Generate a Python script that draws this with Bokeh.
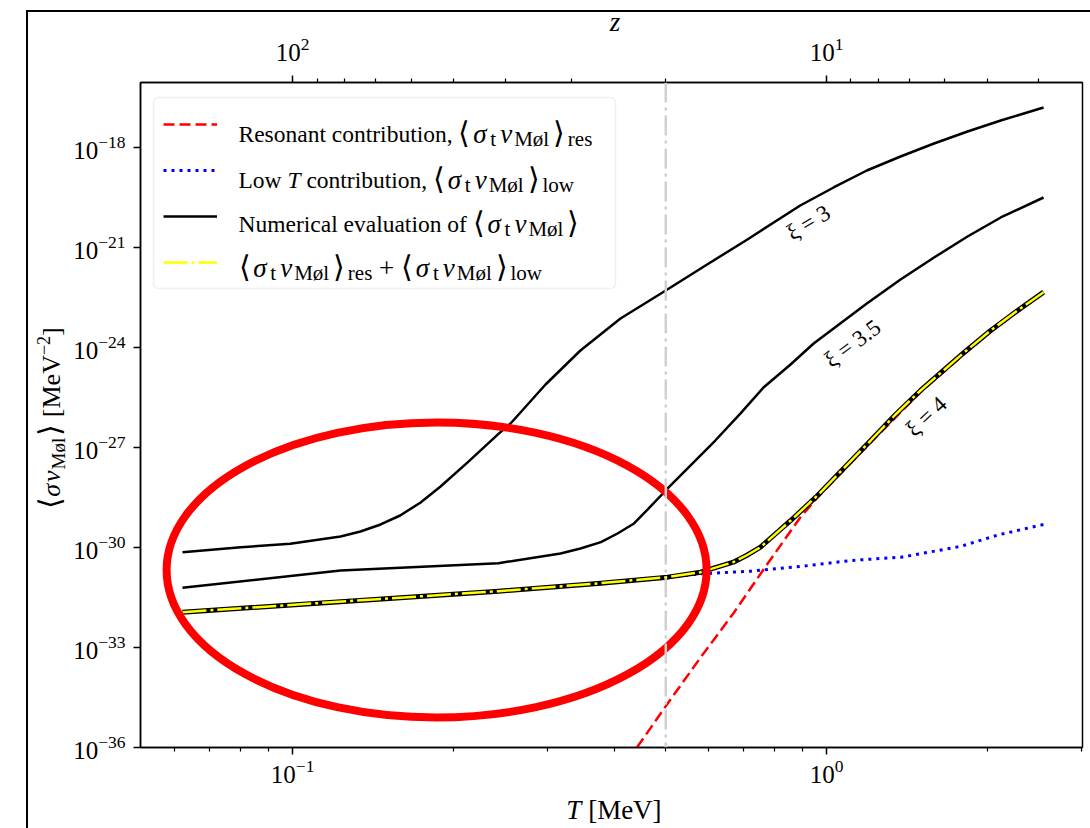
import math
from bokeh.plotting import figure
from bokeh.models import (Range1d, LogScale, LogAxis, FixedTicker, LogTickFormatter,
                          Span, Label, Legend, LegendItem, BoxAnnotation, ColumnDataSource, Div)
from bokeh.core.properties import value
from bokeh.embed import file_html
from bokeh.resources import INLINE

# ---------------- data ----------------
T_xi3 = [0.0622, 0.080, 0.099, 0.123, 0.134, 0.1462, 0.159, 0.1737, 0.1893, 0.213, 0.243,
         0.256, 0.2977, 0.346, 0.4113, 0.50, 0.5934, 0.711, 0.893, 1.031, 1.19, 1.376, 1.59,
         1.837, 2.12, 2.55]
sv_xi3 = [7.24e-31, 1.02e-30, 1.29e-30, 2.14e-30, 3.02e-30, 4.90e-30, 9.12e-30, 2.24e-29,
          6.76e-29, 3.63e-28, 2.57e-27, 5.25e-27, 7.76e-26, 8.13e-25, 7.41e-24, 5.13e-23,
          2.88e-22, 1.74e-21, 1.82e-20, 6.31e-20, 2.04e-19, 5.37e-19, 1.32e-18, 3.02e-18,
          6.46e-18, 1.58e-17]

T_xi35 = [0.0622, 0.123, 0.243, 0.3176, 0.346, 0.378, 0.4061, 0.436, 0.4683, 0.504, 0.619,
          0.6902, 0.762, 0.8563, 0.946, 1.19, 1.376, 1.59, 1.837, 2.12, 2.55]
sv_xi35 = [6.17e-32, 2.04e-31, 3.39e-31, 6.61e-31, 9.33e-31, 1.45e-30, 2.63e-30, 5.25e-30,
           1.70e-29, 5.89e-29, 1.62e-27, 1.05e-26, 6.31e-26, 3.09e-25, 1.32e-24, 2.09e-23,
           1.10e-22, 5.01e-22, 2.14e-21, 7.94e-21, 3.16e-20]

T_xi4 = [0.0622, 0.243, 0.378, 0.504, 0.581, 0.669, 0.7082, 0.752, 0.857, 0.962, 1.06, 1.21,
         1.347, 1.50, 1.81, 2.03, 2.28, 2.55]
sv_xi4 = [1.15e-32, 4.90e-32, 8.51e-32, 1.29e-31, 1.82e-31, 3.63e-31, 5.75e-31, 1.02e-30,
          6.46e-30, 3.63e-29, 1.82e-28, 1.62e-27, 9.77e-27, 5.13e-26, 7.08e-25, 3.24e-24,
          1.29e-23, 4.57e-23]

T_low = [0.0622, 0.243, 0.378, 0.504, 0.581, 0.721, 0.893, 1.11, 1.38, 1.78, 2.10, 2.55]
sv_low = [1.15e-32, 4.90e-32, 8.51e-32, 1.29e-31, 1.62e-31, 1.95e-31, 2.69e-31, 4.07e-31,
          5.13e-31, 1.07e-30, 2.40e-30, 4.90e-30]

T_res = [0.4415, 0.504, 0.581, 0.669, 0.776, 0.893, 0.962, 1.06, 1.21, 1.50, 1.81, 2.03,
         2.28, 2.55]
sv_res = [1.0e-36, 2.09e-35, 5.01e-34, 1.05e-32, 3.31e-31, 7.94e-30, 3.16e-29, 1.58e-28,
          1.41e-27, 4.57e-26, 6.31e-25, 2.95e-24, 1.17e-23, 4.37e-23]

# sum of resonant + low-T contributions (coincides with the xi = 4 curve)
T_sum = T_xi4
sv_sum = sv_xi4

xi_labels = ["ξ = 3", "ξ = 3.5", "ξ = 4"]
xi_label_T = [0.925, 1.119, 1.538]
xi_label_sv = [5.6e-21, 1.32e-24, 8.5e-27]

T_threshold = 0.5            # grey dash-dot vertical line
highlight_T = [0.1861]        # centre of the hand-drawn red ellipse
highlight_sv = [2.11e-31]

T_ticks = [0.1, 1.0]
T_minor = [0.06, 0.07, 0.08, 0.09, 0.2, 0.3, 0.4, 0.5, 0.6, 0.7, 0.8, 0.9, 2.0, 3.0]
sv_ticks = [1e-36, 1e-33, 1e-30, 1e-27, 1e-24, 1e-21, 1e-18]
z_per_T = 10.0               # z = z_per_T / T  (top axis)
z_ticks = [100.0, 10.0]
z_minor = [90, 80, 70, 60, 50, 40, 30, 20, 9, 8, 7, 6, 5, 4]

T_lim = (0.0519, 3.016)
sv_lim = (1e-36, 8.9e-17)

# ---------------- layout ----------------
FONT = "Liberation Serif"
W, H = 1090, 820
FL, FR, FT, FB = 140, 1082, 82, 747   # frame edges in page pixels (canvas at 0,0)

p = figure(width=W, height=H, x_axis_type="log", y_axis_type="log",
           x_range=Range1d(*T_lim), y_range=Range1d(*sv_lim),
           output_backend="svg", toolbar_location=None,
           min_border_left=FL, min_border_right=W - FR,
           min_border_top=FT, min_border_bottom=H - FB)
p.grid.visible = False
p.background_fill_color = "white"
p.border_fill_color = "white"
p.outline_line_color = "black"
p.outline_line_width = 1.5

def style_axis(ax, standoff):
    ax.axis_line_width = 1.5
    ax.axis_line_color = "black"
    ax.major_tick_line_width = 1.5
    ax.minor_tick_line_width = 1.2
    ax.major_tick_in = 0
    ax.major_tick_out = 7
    ax.minor_tick_in = 0
    ax.minor_tick_out = 4
    ax.major_label_text_font = FONT
    ax.major_label_text_font_size = "25px"
    ax.major_label_text_color = "black"
    ax.major_label_standoff = standoff
    ax.axis_label = None

xax = p.below[0]
xax.ticker = FixedTicker(ticks=T_ticks, minor_ticks=T_minor)
xax.formatter = LogTickFormatter()
style_axis(xax, 5)

yax = p.left[0]
yax.ticker = FixedTicker(ticks=sv_ticks, minor_ticks=[])
yax.formatter = LogTickFormatter()
style_axis(yax, 8)

p.extra_x_ranges = {"z": Range1d(z_per_T / T_lim[0], z_per_T / T_lim[1])}
p.extra_x_scales = {"z": LogScale()}
zax = LogAxis(x_range_name="z", ticker=FixedTicker(ticks=z_ticks, minor_ticks=z_minor),
              formatter=LogTickFormatter())
style_axis(zax, 15)
p.add_layout(zax, "above")

# ---------------- curves ----------------
p.add_layout(Span(location=T_threshold, dimension="height", line_color="#d0d0d0",
                  line_width=2.5, line_dash="20 5 3 5"))

r_xi3 = p.line(T_xi3, sv_xi3, line_color="black", line_width=2.5, line_join="round")
r_xi35 = p.line(T_xi35, sv_xi35, line_color="black", line_width=2.5, line_join="round")
r_xi4 = p.line(T_xi4, sv_xi4, line_color="black", line_width=2.5, line_join="round")
r_low = p.line(T_low, sv_low, line_color="#0000ff", line_width=3, line_dash="3 5")
r_res = p.line(T_res, sv_res, line_color="#ff0000", line_width=2.5, line_dash="11 5")
p.line(T_sum, sv_sum, line_color="black", line_width=5, line_join="round")
r_sum = p.line(T_sum, sv_sum, line_color="#ffff00", line_width=2.5, line_dash="24 4 3 4")

src_lab = ColumnDataSource(dict(x=xi_label_T, y=xi_label_sv, t=xi_labels,
                                a=[math.radians(31), math.radians(36.5), math.radians(43)]))
p.text(x="x", y="y", text="t", angle="a", source=src_lab, text_font=value(FONT),
       text_font_size=value("23px"), text_align="center", text_baseline="middle",
       text_color="black")

p.ellipse(x=highlight_T, y=highlight_sv, width=540, height=295, width_units="screen",
          height_units="screen", fill_color=None, line_color="#ff0000", line_width=8)

# ---------------- legend ----------------
p.add_layout(BoxAnnotation(left=153 - FL, right=615 - FL, top=FB - 97, bottom=FB - 288,
                           left_units="screen", right_units="screen", top_units="screen",
                           bottom_units="screen", fill_color="white", fill_alpha=0.8,
                           line_color="#cccccc", line_width=1.5, border_radius=5))

legend = Legend(items=[LegendItem(label=" ", renderers=[r_res]),
                       LegendItem(label=" ", renderers=[r_low]),
                       LegendItem(label=" ", renderers=[r_xi3]),
                       LegendItem(label=" ", renderers=[r_sum])],
                location=(163 - FL, FB - 272), padding=0, margin=0, spacing=26,
                glyph_width=54, glyph_height=20, label_height=20, label_standoff=0,
                label_text_font_size="12px", border_line_alpha=0, background_fill_alpha=0)
p.add_layout(legend)

# ---------------- rich text helpers (legend rows) ----------------
_up = dict(zip("ABCDEFGHIJKLMNOPQRSTUVWXYZ",
               [722, 667, 667, 722, 611, 556, 722, 722, 333, 389, 722, 611, 889, 722, 722, 556,
                722, 667, 556, 611, 722, 722, 944, 722, 722, 611]))
_lo = dict(zip("abcdefghijklmnopqrstuvwxyz",
               [444, 500, 444, 500, 444, 333, 500, 500, 278, 278, 500, 278, 778, 500, 500, 500,
                500, 333, 389, 278, 500, 500, 722, 500, 500, 444]))
_sp = {' ': 250, ',': 250, '.': 250, '[': 333, ']': 333, '+': 564, '=': 564, '−': 564,
       '-': 333, 'ø': 500, 'σ': 560, 'ξ': 440, '⟨': 390, '⟩': 390}
_it = {'T': 556, 'v': 444}

def tw(s, size, style="normal"):
    tot = 0
    for ch in s:
        if style == "italic" and ch in _it:
            tot += _it[ch]
        elif ch in _up:
            tot += _up[ch]
        elif ch in _lo:
            tot += _lo[ch]
        elif ch.isdigit():
            tot += 500
        else:
            tot += _sp.get(ch, 500)
    return tot * size / 1000.0

def rich(parts, x0, y0, sizes):
    adv = 0.0
    for txt, kind, gap in parts:
        size, style, dy = sizes[kind]
        lead = len(txt) - len(txt.lstrip())
        shown = txt.strip()
        off = adv + tw(txt[:lead], size, style)
        if shown:
            p.add_layout(Label(x=x0 + off, y=y0 + dy, x_units="screen", y_units="screen",
                               text=shown, text_font=FONT, text_font_size=f"{size}px",
                               text_font_style=style, text_color="black",
                               text_align="left", text_baseline="alphabetic"))
        adv += tw(txt, size, style) + gap
    return adv

LEG = {"n": (23.5, "normal", 0), "ni": (23.5, "italic", 0), "b": (30, "normal", 1),
       "m": (27, "normal", 0), "mi": (27, "italic", 0), "s": (21, "normal", -5)}

def mathpart(sub):
    parts = [("⟨", "b", 3), ("σ", "mi", 2), ("t", "s", 4), ("v", "mi", 2), ("Møl", "s", 4),
             ("⟩", "b", 3)]
    if sub:
        parts.append((sub, "s", 0))
    return parts

x_leg = 238 - FL
rich([("Resonant contribution, ", "n", 0)] + mathpart("res"), x_leg, FB - 133, LEG)
rich([("Low ", "n", 0), ("T", "ni", 0), (" contribution, ", "n", 0)] + mathpart("low"),
     x_leg, FB - 179, LEG)
rich([("Numerical evaluation of ", "n", 0)] + mathpart(None), x_leg, FB - 223, LEG)
rich(mathpart("res") + [(" + ", "m", 0)] + mathpart("low"), x_leg, FB - 267, LEG)

# ---------------- axis titles and outer frame (HTML overlays, real text) ----------------
def abs_div(html, left, top, width, height, extra=None):
    st = {"position": "absolute", "left": f"{left}px", "top": f"{top}px",
          "overflow": "visible", "pointer-events": "none"}
    if extra:
        st.update(extra)
    return Div(text=html, width=width, height=height, styles=st)

TXT = ("font-family:'Liberation Serif',serif; color:black; "
       "white-space:nowrap; text-align:center;")

ylabel = abs_div(
    f'<div style="{TXT} width:260px; font-size:26px; line-height:40px;">'
    '<span style="font-size:30px;">⟨</span><i>σ</i><i style="margin-left:2px;">v</i>'
    '<span style="font-size:19px; position:relative; top:5px; margin-left:1px;">Møl</span>'
    '<span style="font-size:30px; margin-left:2px;">⟩</span>&nbsp;[MeV'
    '<span style="font-size:18px; position:relative; top:-10px;">−2</span>]</div>',
    45 - 130, 413 - 20, 260, 40, {"transform": "rotate(-90deg)"})

xlabel = abs_div(f'<div style="{TXT} width:200px; font-size:27px; line-height:36px;">'
                 '<i>T</i>&nbsp;[MeV]</div>', 609 - 100, 787, 200, 36)

zlabel = abs_div(f'<div style="{TXT} width:200px; font-size:27px; line-height:36px;">'
                 '<i>z</i></div>', 610 - 100, -1, 200, 36)

frame = abs_div("", 21, 5, 1067, 823,
                {"border-top": "2px solid black", "border-left": "2px solid black",
                 "border-right": "2px solid black", "box-sizing": "border-box"})

open("out.html", "w").write(file_html([p, ylabel, xlabel, zlabel, frame], INLINE))
